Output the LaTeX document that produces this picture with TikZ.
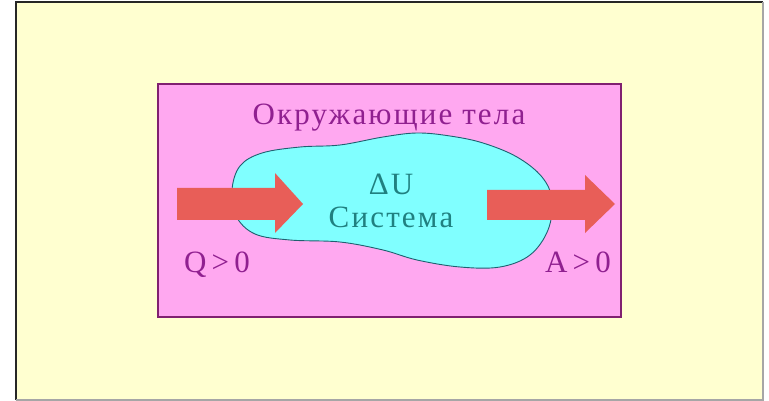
\documentclass[tikz,border=0pt]{standalone}
\usepackage{fontspec}
\setmainfont{Liberation Serif}
\newfontfamily\spaced[LetterSpace=7]{Liberation Serif}
\definecolor{bgyellow}{RGB}{255,255,208}
\definecolor{envpink}{RGB}{255,168,240}
\definecolor{envborder}{RGB}{128,32,112}
\definecolor{syscyan}{RGB}{128,255,255}
\definecolor{sysborder}{RGB}{32,96,112}
\definecolor{arrowred}{RGB}{232,94,88}
\definecolor{purpletext}{RGB}{144,32,144}
\definecolor{tealtext}{RGB}{32,128,128}
\tikzset{
  lbl/.style={inner sep=0pt, anchor=base, font=\spaced\fontsize{31}{33}\selectfont},
  bigarrow/.style={fill=arrowred, draw=none},
}
\begin{document}
\begin{tikzpicture}[x=1pt,y=-1pt]
\useasboundingbox (0,0) rectangle (769,401);
\fill[white] (0,0) rectangle (769,401);
\fill[bgyellow] (16,2) rectangle (763,400);
\draw[black!85, line width=2pt] (16,400) -- (16,2) -- (763,2);
\draw[black!35, line width=1.5pt] (763,2) -- (763,400) -- (16,400);
\draw[fill=envpink, draw=envborder, line width=1.5pt] (158,84) rectangle (621,317);
\draw[fill=syscyan, draw=sysborder, line width=0.9pt]
  plot[smooth cycle, tension=0.6] coordinates {
    (232,190) (240,166) (262,153) (300,147) (340,145) (383,137) (417,133)
    (450,136) (483,143) (517,157) (542,177) (552,200) (548,230) (530,255)
    (500,267) (460,267) (417,260) (383,250) (340,242) (290,240) (255,234) (236,216)};
\fill[bigarrow] (177,188) -- (275,188) -- (275,173) -- (303,204) -- (275,233) -- (275,220) -- (177,220) -- cycle;
\fill[bigarrow] (487,190) -- (585,190) -- (585,175) -- (615,204) -- (585,233) -- (585,220) -- (487,220) -- cycle;
\node[lbl, text=purpletext] (env) at (389,125) {Окружающие тела};
\node[lbl, text=tealtext] (du) at (391,195) {ΔU};
\node[lbl, text=tealtext] (sys) at (391,227) {Система};
\node[lbl, text=purpletext] (q) at (217,272) {Q\,>\,0};
\node[lbl, text=purpletext] (a) at (578,272) {A\,>\,0};
\end{tikzpicture}
\end{document}
